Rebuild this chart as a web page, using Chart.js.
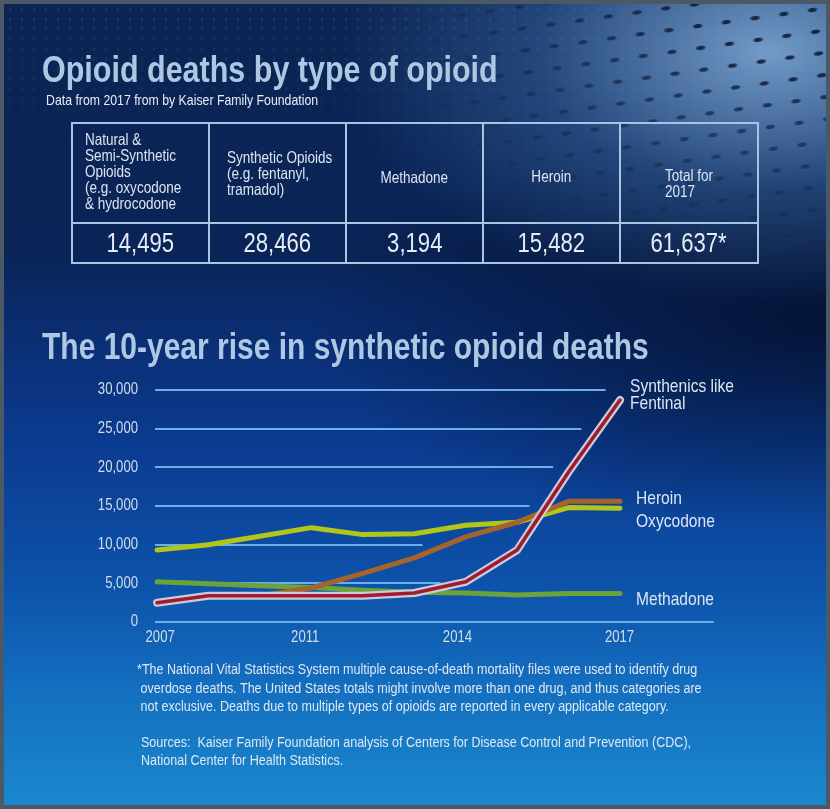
<!DOCTYPE html>
<html lang="en">
<head>
<meta charset="UTF-8">
<title>Opioid deaths by type of opioid</title>
<script src="https://cdn.jsdelivr.net/npm/chart.js"></script>
<style>
  html, body { margin: 0; padding: 0; }
  body { width: 830px; height: 809px; overflow: hidden; }
  #page {
    position: relative; width: 830px; height: 809px; box-sizing: border-box;
    border: 4px solid #4b5967; overflow: hidden;
    font-family: "Liberation Sans", Arial, sans-serif;
    background:
      radial-gradient(ellipse 430px 250px at 93% 6%, rgba(125,168,212,0.9), rgba(62,110,168,0.45) 55%, rgba(20,50,100,0) 100%),
      radial-gradient(ellipse 520px 210px at 100% 320px, rgba(3,12,36,0.75), rgba(3,12,36,0) 100%),
      linear-gradient(to bottom, #0c2453 0px, #0a2457 250px, #0a2a6a 300px, #0b3b90 440px, #0d52aa 580px, #1470c0 690px, #1a88cd 805px);
  }
  #dots {
    position: absolute; left: 200px; top: -60px; width: 760px; height: 380px;
    transform: rotate(-8deg);
    background-image: radial-gradient(ellipse 8px 3.5px at 50% 50%, rgba(4,14,38,0.8) 45%, rgba(4,14,38,0) 70%);
    background-size: 29px 22px;
    -webkit-mask-image: radial-gradient(ellipse 560px 320px at 85% 22%, #000 25%, rgba(0,0,0,0) 80%);
    mask-image: radial-gradient(ellipse 560px 320px at 85% 22%, #000 25%, rgba(0,0,0,0) 80%);
  }
  #fine {
    position: absolute; left: 0; top: 0; width: 830px; height: 250px;
    background-image: radial-gradient(ellipse 2px 3px at 50% 50%, rgba(120,160,210,0.16) 40%, rgba(120,160,210,0) 75%);
    background-size: 12px 10px;
    -webkit-mask-image: linear-gradient(to bottom, #000 0%, rgba(0,0,0,0.4) 45%, rgba(0,0,0,0) 100%);
    mask-image: linear-gradient(to bottom, #000 0%, rgba(0,0,0,0.4) 45%, rgba(0,0,0,0) 100%);
  }
  /* text is set in Liberation Sans and squeezed to get the narrow face of the original */
  .nw { display: inline-block; transform: scaleX(0.82); transform-origin: 0 50%; white-space: nowrap; }
  .nc { display: inline-block; transform: scaleX(0.82); transform-origin: 50% 50%; white-space: nowrap; }
  .title {
    position: absolute; left: 38px; font-weight: bold; line-height: 37px;
    color: #aec7e2; white-space: nowrap;
  }
  #sub { position: absolute; left: 42px; top: 88px; font-size: 15px; line-height: 16px; color: #e6edf5; }
  #tbl { position: absolute; left: 67px; top: 118px; width: 688px; height: 140px; color: #dbe6f2; }
  #tbl .cell { position: absolute; box-sizing: border-box; border: 2px solid #a7c4e3; display: flex; align-items: center; }
  #tbl .head { top: 0; height: 102px; font-size: 16.5px; line-height: 16px; }
  #tbl .val { top: 100px; height: 42px; font-size: 27px; justify-content: center; color: #e4edf7; }
  #chartbox { position: absolute; left: 86px; top: 366px; width: 650px; height: 290px; }
  #note { position: absolute; left: 133px; top: 656px; font-size: 15.3px; line-height: 18.5px; color: #dfe8f2; }
  #src { position: absolute; left: 137px; top: 729px; font-size: 15.3px; line-height: 17.5px; color: #dfe8f2; }
</style>
</head>
<body>
<div id="page">
  <div id="fine"></div>
  <div id="dots"></div>
  <div class="title" style="top:47px;font-size:37.2px"><span class="nw">Opioid deaths by type of opioid</span></div>
  <div id="sub"><span class="nw">Data from 2017 from by Kaiser Family Foundation</span></div>
  <div id="tbl">
    <div class="cell head" style="left:0;width:139px;padding-left:12px;padding-bottom:4px"><span class="nw">Natural &amp;<br>Semi-Synthetic<br>Opioids<br>(e.g. oxycodone<br>&amp; hydrocodone</span></div>
    <div class="cell head" style="left:137px;width:139px;padding-left:17px"><span class="nw">Synthetic Opioids<br>(e.g. fentanyl,<br>tramadol)</span></div>
    <div class="cell head" style="left:274px;width:139px;justify-content:center;padding-top:8px"><span class="nc">Methadone</span></div>
    <div class="cell head" style="left:411px;width:139px;justify-content:center;padding-top:6px"><span class="nc">Heroin</span></div>
    <div class="cell head" style="left:548px;width:140px;padding-left:44px;padding-top:20px"><span class="nw">Total for<br>2017</span></div>
    <div class="cell val" style="left:0;width:139px"><span class="nc">14,495</span></div>
    <div class="cell val" style="left:137px;width:139px"><span class="nc">28,466</span></div>
    <div class="cell val" style="left:274px;width:139px"><span class="nc">3,194</span></div>
    <div class="cell val" style="left:411px;width:139px"><span class="nc">15,482</span></div>
    <div class="cell val" style="left:548px;width:140px"><span class="nc">61,637*</span></div>
  </div>
  <div class="title" style="top:324px;font-size:36.6px"><span class="nw">The 10-year rise in synthetic opioid deaths</span></div>
  <div id="chartbox"><canvas id="c" width="650" height="290"></canvas></div>
  <div id="note"><span class="nw">*The National Vital Statistics System multiple cause-of-death mortality files were used to identify drug<br>
    &nbsp;overdose deaths. The United States totals might involve more than one drug, and thus categories are<br>
    &nbsp;not exclusive. Deaths due to multiple types of opioids are reported in every applicable category.</span></div>
  <div id="src"><span class="nw">Sources:&nbsp; Kaiser Family Foundation analysis of Centers for Disease Control and Prevention (CDC),<br>National Center for Health Statistics.</span></div>
</div>
<script>
  // points along the x axis (10 yearly points) and the year labels under them
  const pointIndex = [0, 1, 2, 3, 4, 5, 6, 7, 8, 9];
  const yearLabels = ['2007', '2011', '2014', '2017'];
  const yearTickAt = [0.06, 2.88, 5.84, 8.99];

  // deaths per year
  const synthetic = [2500, 3400, 3400, 3400, 3400, 3750, 5200, 9300, 19400, 28700];
  const heroin    = [2500, 3400, 3400, 4400, 6300, 8300, 11000, 12900, 15600, 15600];
  const oxycodone = [9300, 10000, 11100, 12200, 11300, 11400, 12500, 12900, 14800, 14700];
  const methadone = [5200, 4950, 4700, 4450, 4100, 3850, 3750, 3500, 3700, 3700];

  const seriesNames = [['Synthenics like', 'Fentinal'], ['Heroin'], ['Oxycodone'], ['Methadone']];

  // look of the decorations
  const gridEnds = [10.82, 5.51, 5.16, 7.24, 7.70, 8.25, 8.72]; // where each grid line stops, in x units
  const labelDx = [10, 16, 16, 16];
  const labelDy = [-13, -3, 13, 6];

  const FONT = '"Liberation Sans", Arial, sans-serif';
  const SQUEEZE = 0.82;
  const pts = arr => arr.map((v, i) => ({ x: pointIndex[i], y: v }));

  // narrow text: draw normal Liberation Sans squeezed horizontally
  function narrowText(ctx, text, x, y, align) {
    ctx.save();
    ctx.translate(x, y);
    ctx.scale(SQUEEZE, 1);
    ctx.textAlign = align;
    ctx.fillText(text, 0, 0);
    ctx.restore();
  }

  const gridPlugin = {
    id: 'stepGrid',
    beforeDatasetsDraw(chart) {
      const { ctx, chartArea, scales } = chart;
      ctx.save();
      ctx.strokeStyle = '#6eaeea';
      ctx.lineWidth = 2;
      scales.y.ticks.forEach((t, i) => {
        const y = Math.round(scales.y.getPixelForValue(t.value));
        ctx.beginPath();
        ctx.moveTo(chartArea.left, y);
        ctx.lineTo(scales.x.getPixelForValue(gridEnds[i]), y);
        ctx.stroke();
      });
      ctx.restore();
    }
  };

  // tick labels in the narrow face, placed from the chart's own scales
  const tickPlugin = {
    id: 'narrowTicks',
    afterDraw(chart) {
      const { ctx, chartArea, scales } = chart;
      ctx.save();
      ctx.font = '16px ' + FONT;
      ctx.fillStyle = '#d3deeb';
      ctx.textBaseline = 'middle';
      scales.y.ticks.forEach(t => {
        narrowText(ctx, t.value.toLocaleString('en-US'), chartArea.left - 17, scales.y.getPixelForValue(t.value), 'right');
      });
      scales.x.ticks.forEach((t, i) => {
        narrowText(ctx, yearLabels[i], scales.x.getPixelForValue(t.value), chartArea.bottom + 16, 'center');
      });
      ctx.restore();
    }
  };

  const labelPlugin = {
    id: 'endLabels',
    afterDatasetsDraw(chart) {
      const { ctx, scales } = chart;
      const lasts = [synthetic, heroin, oxycodone, methadone];
      ctx.save();
      ctx.font = '19px ' + FONT;
      ctx.fillStyle = '#dbe6f2';
      ctx.textBaseline = 'middle';
      lasts.forEach((arr, k) => {
        const n = arr.length - 1;
        const x = scales.x.getPixelForValue(pointIndex[n]) + labelDx[k];
        const y = scales.y.getPixelForValue(arr[n]) + labelDy[k];
        seriesNames[k].forEach((line, j) => narrowText(ctx, line, x, y + j * 17, 'left'));
      });
      ctx.restore();
    }
  };

  new Chart(document.getElementById('c'), {
    type: 'line',
    data: {
      datasets: [
        { data: pts(synthetic), borderColor: '#a3192e', borderWidth: 3.5 },
        { data: pts(synthetic), borderColor: '#c8ccd8', borderWidth: 8 },
        { data: pts(heroin), borderColor: '#a6642b', borderWidth: 5 },
        { data: pts(oxycodone), borderColor: '#b2c61a', borderWidth: 5 },
        { data: pts(methadone), borderColor: '#6ba33a', borderWidth: 5 }
      ]
    },
    options: {
      responsive: false,
      animation: false,
      events: [],
      clip: false,
      elements: { point: { radius: 0 }, line: { tension: 0, borderJoinStyle: 'round', borderCapStyle: 'round' } },
      layout: { padding: { top: 20, right: 120, left: 0, bottom: 0 } },
      plugins: { legend: { display: false }, tooltip: { enabled: false } },
      scales: {
        x: {
          type: 'linear', min: -0.04, max: 9,
          afterBuildTicks: s => { s.ticks = yearTickAt.map(v => ({ value: v })); },
          afterFit: s => { s.height = 38; },
          grid: { display: false, drawTicks: false },
          border: { display: false },
          ticks: { display: false, autoSkip: false }
        },
        y: {
          min: 0, max: 30000,
          afterFit: s => { s.width = 65; },
          grid: { display: false, drawTicks: false },
          border: { display: false },
          ticks: { display: false, stepSize: 5000 }
        }
      }
    },
    plugins: [gridPlugin, labelPlugin, tickPlugin]
  });
</script>
</body>
</html>
